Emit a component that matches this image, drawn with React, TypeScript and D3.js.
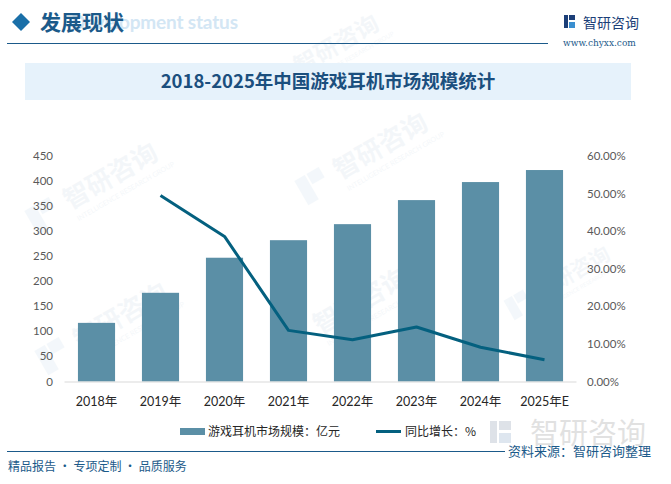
import React from "react";
import * as d3 from "d3";

const categories = ["2018年", "2019年", "2020年", "2021年", "2022年", "2023年", "2024年", "2025年E"];
const marketSize = [117, 177, 247, 282, 314, 362, 398, 422];
const growth: (number | null)[] = [null, 49.5, 38.6, 13.6, 11.1, 14.5, 9.1, 5.8];
const leftTicks = [0, 50, 100, 150, 200, 250, 300, 350, 400, 450];
const rightTicks = [0, 10, 20, 30, 40, 50, 60];

const W = 671;
const H = 484;
const plotTop = 156;
const plotBottom = 381.5;
const plotLeft = 64.5;
const plotRight = 576.5;

const BAR = "#5b8fa6";
const LINE = "#04607f";
const DARK = "#1b5a8a";
const FONT = "Lato, 'Noto Sans CJK SC', sans-serif";
const CJK = "'Noto Sans CJK SC', sans-serif";

function Watermark({ x, y, s = 1 }: { x: number; y: number; s?: number }) {
  return (
    <g transform={`translate(${x},${y}) rotate(-30) scale(${s})`} opacity={0.05}>
      <rect x={-40} y={-22} width={12} height={28} fill="#2a7ab8" />
      <rect x={-26} y={-22} width={14} height={12} fill="#2a7ab8" />
      <text x={0} y={0} fontFamily={CJK} fontSize={26} fontWeight="bold" fill="#2a6a9a">智研咨询</text>
      <text x={2} y={14} fontFamily="Lato, sans-serif" fontSize={7} fill="#2a6a9a">INTELLIGENCE RESEARCH GROUP</text>
    </g>
  );
}

export default function App() {
  const x = d3.scaleBand<string>().domain(categories).range([plotLeft, plotRight]).paddingInner(0.42).paddingOuter(0.21);
  const yL = d3.scaleLinear().domain([0, 450]).range([plotBottom, plotTop]);
  const yR = d3.scaleLinear().domain([0, 60]).range([plotBottom, plotTop]);

  const lineGen = d3
    .line<number | null>()
    .defined((d) => d !== null)
    .x((_, i) => (x(categories[i]) as number) + x.bandwidth() / 2)
    .y((d) => yR(d as number));

  return (
    <svg width={W} height={H} style={{ position: "absolute", left: 0, top: 0, background: "#fff" }}>
      <rect width={W} height={H} fill="#fff" />
      {/* watermarks */}
      <Watermark x={300} y={75} s={0.9} />
      <Watermark x={70} y={210} />
      <Watermark x={340} y={180} />
      <Watermark x={80} y={350} />
      <Watermark x={320} y={335} />
      <Watermark x={540} y={300} s={0.8} />

      {/* header */}
      <text x={71} y={29} fontFamily="Lato, sans-serif" fontWeight="bold" fontSize={19} fill="#d3e6f4" textLength={167}>
        Development status
      </text>
      <path d="M21,13 L30,22 L21,31 L12,22 Z" fill="#1a6fa8" />
      <text x={40} y={30} fontFamily={CJK} fontWeight="bold" fontSize={21} fill={DARK}>
        发展现状
      </text>
      <line x1={7} y1={43.5} x2={548} y2={43.5} stroke={DARK} strokeWidth={1.2} />
      <g>
        <rect x={564} y={15} width={4} height={13} fill="#1c3f78" />
        <rect x={569} y={15} width={6} height={5} fill="#1c3f78" />
        <rect x={569} y={22} width={6} height={6} fill="#3a8fd0" />
        <text x={583} y={28} fontFamily={CJK} fontSize={14} fill="#1c3f78">智研咨询</text>
        <text x={563} y={46} fontFamily="'DejaVu Serif', serif" fontSize={9} fill="#1b5a8a">www.chyxx.com</text>
      </g>

      {/* title band */}
      <rect x={25} y={63} width={606} height={37} fill="#e6f2fb" />
      <text x={328} y={88} textAnchor="middle" fontFamily={CJK} fontWeight="bold" fontSize={18.5} fill="#1b4f7e">
        2018-2025年中国游戏耳机市场规模统计
      </text>

      {/* bars */}
      {marketSize.map((v, i) => (
        <rect
          key={categories[i]}
          x={x(categories[i])}
          y={yL(v)}
          width={x.bandwidth()}
          height={plotBottom - yL(v)}
          fill={BAR}
        />
      ))}
      {/* baseline */}
      <line x1={plotLeft} y1={plotBottom + 0.5} x2={plotRight} y2={plotBottom + 0.5} stroke="#d9d9d9" strokeWidth={1} />

      {/* line */}
      <path d={lineGen(growth) || ""} fill="none" stroke={LINE} strokeWidth={3} strokeLinejoin="round" />

      {/* left axis */}
      {leftTicks.map((t) => (
        <text key={t} x={53} y={yL(t) + 4} textAnchor="end" fontFamily={FONT} fontSize={11.5} fill="#595959">
          {t}
        </text>
      ))}
      {/* right axis */}
      {rightTicks.map((t) => (
        <text key={t} x={587} y={yR(t) + 4} textAnchor="start" fontFamily={FONT} fontSize={11.5} fill="#595959">
          {t.toFixed(2)}%
        </text>
      ))}
      {/* x labels */}
      {categories.map((c) => (
        <text
          key={c}
          x={(x(c) as number) + x.bandwidth() / 2}
          y={406}
          textAnchor="middle"
          fontFamily={FONT}
          fontSize={12.5}
          fill="#262626"
        >
          {c}
        </text>
      ))}

      {/* legend */}
      <rect x={180} y={428} width={25} height={7} fill={BAR} />
      <text x={208} y={436} fontFamily={CJK} fontSize={12} fill="#262626">游戏耳机市场规模：亿元</text>
      <line x1={376} y1={431.5} x2={401} y2={431.5} stroke={LINE} strokeWidth={3} />
      <text x={405} y={436} fontFamily={CJK} fontSize={12} fill="#262626">同比增长：%</text>

      {/* footer */}
      <g opacity={0.22}>
        <rect x={490} y={421} width={7} height={22} fill="#6d7f9a" />
        <rect x={499} y={421} width={12} height={9} fill="#6d7f9a" />
        <rect x={499} y={433} width={12} height={10} fill="#6d8fb8" />
        <text x={530} y={444} fontFamily={CJK} fontSize={29} fill="#7a7a7a">智研咨询</text>
      </g>
      <line x1={7} y1={451.5} x2={505} y2={451.5} stroke={DARK} strokeWidth={1.2} />
      <text x={508} y={456} fontFamily={CJK} fontSize={13} fill={DARK}>资料来源：智研咨询整理</text>
      <text x={8} y={471} fontFamily={CJK} fontSize={12} fill={DARK}>精品报告 · 专项定制 · 品质服务</text>
    </svg>
  );
}
